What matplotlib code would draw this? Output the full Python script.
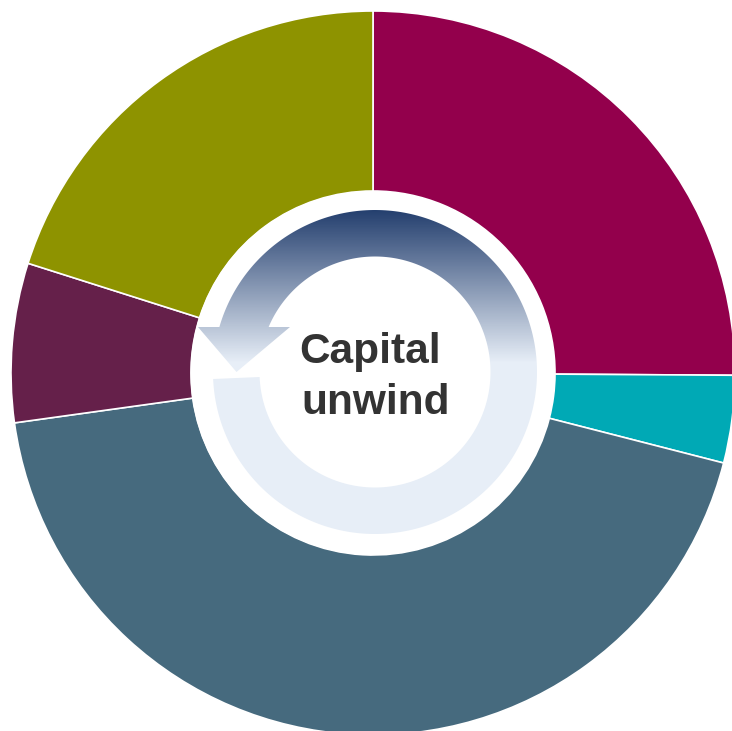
import numpy as np
import matplotlib
matplotlib.use('Agg')
import matplotlib.pyplot as plt
from matplotlib.colors import LinearSegmentedColormap
from matplotlib.patches import Circle, PathPatch
from matplotlib.path import Path

# shares, clockwise from 12 o'clock
shares = [25.1, 3.9, 43.8, 7.1, 20.1]
colors = ['#93004c', '#00a9b5', '#466a7e', '#65204a', '#8e9300']
label_lines = ['Capital', 'unwind']

W, H = 732, 731


def flip(y):
    # reference is measured from the top, the axes run upwards
    return H - y


fig = plt.figure(figsize=(W / 100, H / 100), dpi=100)
ax = fig.add_axes([0, 0, 1, 1])

ax.pie(shares, colors=colors, startangle=90, counterclock=False,
       center=(373, flip(373)), radius=362, frame=True,
       wedgeprops=dict(width=180, edgecolor='white', linewidth=1.2))

ax.add_patch(Circle((372.5, flip(373)), 182, fc='white', ec='none', zorder=2))

# circular arrow, running anticlockwise from the lower left round to the head
cx, cy, r_out, r_in = 375, 372, 162, 115.5
neck_y = 327
a_neck_out = np.arcsin((cy - neck_y) / r_out)
a_neck_in = np.arcsin((cy - neck_y) / r_in)
a_tail_out = np.arcsin((cy - 379) / r_out)
a_tail_in = np.arcsin((cy - 377) / r_in)

# angles measured clockwise from due left, in screen coordinates
t_out = np.linspace(a_neck_out, 2 * np.pi + a_tail_out, 300)
t_in = np.linspace(2 * np.pi + a_tail_in, a_neck_in, 300)
xs = np.r_[cx - r_out * np.cos(t_out), cx - r_in * np.cos(t_in), 290, 236.5, 198]
ys = np.r_[cy - r_out * np.sin(t_out), cy - r_in * np.sin(t_in), neck_y, 372, neck_y]
verts = np.column_stack([xs, flip(ys)])
verts = np.vstack([verts, verts[0]])
codes = [Path.MOVETO] + [Path.LINETO] * (len(verts) - 2) + [Path.CLOSEPOLY]
arrow = PathPatch(Path(verts, codes), fc='none', ec='none', zorder=3)
ax.add_patch(arrow)

cmap = LinearSegmentedColormap.from_list('fade', ['#25406f', '#e7eef7'])
grad = np.clip((np.arange(205, 540) - 210) / (362 - 210), 0, 1).reshape(-1, 1)
im = ax.imshow(grad, cmap=cmap, vmin=0, vmax=1, aspect='auto', zorder=3,
               extent=(190, 560, flip(540), flip(205)), origin='upper')
im.set_clip_path(arrow)

text_kw = dict(family='Liberation Sans', fontweight='bold', fontsize=30.5,
               color='#333333', ha='center', va='baseline', zorder=4)
ax.text(370, flip(362.7), label_lines[0], **text_kw)
ax.text(376, flip(414), label_lines[1], **text_kw)

ax.set_xlim(0, W)
ax.set_ylim(0, H)
ax.set_aspect('auto')
ax.axis('off')

fig.savefig('out.png', dpi=100, facecolor='white')
